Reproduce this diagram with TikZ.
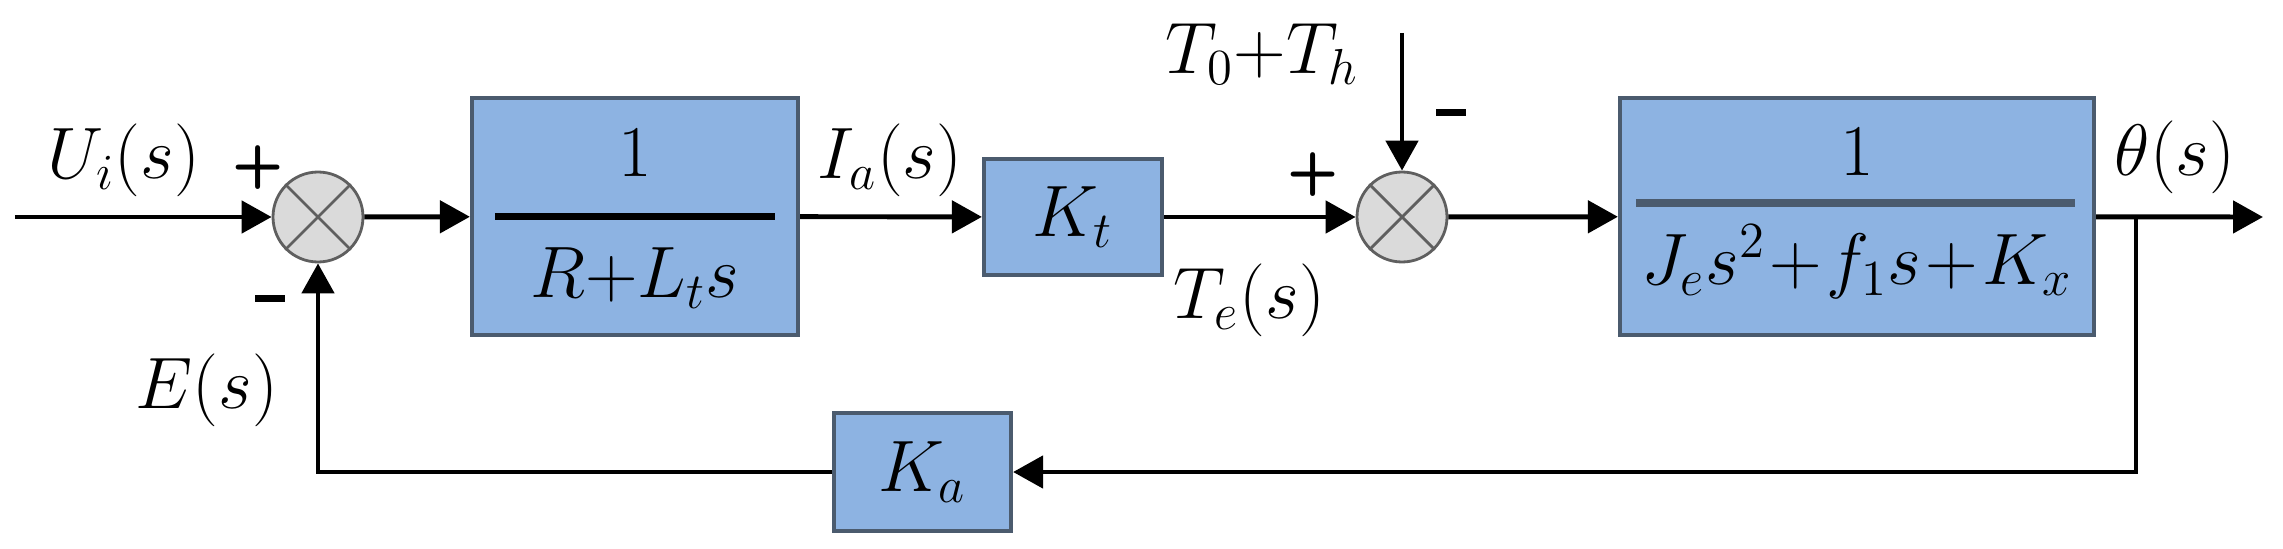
\documentclass[tikz,border=0pt]{standalone}
\usepackage{fontspec}
\usetikzlibrary{arrows.meta}
\definecolor{blockfill}{HTML}{8DB3E2}
\definecolor{blockedge}{HTML}{4B5B6E}
\definecolor{sumfill}{HTML}{DADADA}
\definecolor{sumedge}{HTML}{5F5F5F}

\begin{document}
\begin{tikzpicture}[
  font=\fontsize{20.74}{25}\selectfont,
  block/.style={draw=blockedge, line width=1.2pt, fill=blockfill, inner sep=0pt},
  sumnode/.style={circle, draw=sumedge, line width=0.8pt, fill=sumfill, minimum size=0.9cm, inner sep=0pt},
  sig/.style={line width=1.4pt, -{Triangle[length=0.3cm,width=0.32cm]}},
  lbl/.style={inner sep=0pt},
  sgn/.style={inner sep=0pt, font=\fontsize{17}{17}\selectfont\sffamily\bfseries}]
  \useasboundingbox (0,0) rectangle (22.83,5.48);
  % summing points
  \node[sumnode] (s1) at (3.18,3.31) {};
  \node[sumnode] (s2) at (14.02,3.31) {};
  \foreach \s in {s1,s2}
    \draw[sumedge, line width=0.8pt] (\s.45) -- (\s.225) (\s.135) -- (\s.315);
  % blocks
  \node[block, minimum width=3.26cm, minimum height=2.37cm] (b1) at (6.35,3.315) {};
  \draw[line width=2pt] ([xshift=0.25cm]b1.west) -- ([xshift=-0.25cm]b1.east);
  \node[lbl] (n1) at (6.35,3.95) {$1$};
  \node[lbl] (d1) at (6.35,2.70) {$R{+}L_t s$};
  \node[block, minimum width=1.78cm, minimum height=1.16cm] (kt) at (10.73,3.31) {$K_t$};
  \node[block, minimum width=4.74cm, minimum height=2.37cm] (b3) at (18.57,3.315) {};
  \draw[blockedge, line width=2pt] (16.36,3.45) -- (20.75,3.45);
  \node[lbl] (n3) at (18.57,3.96) {$1$};
  \node[lbl] (d3) at (18.57,2.86) {$J_e s^2\mkern1mu{+}\mkern1mu f_1 s\mkern1mu{+}\mkern1mu K_x$};
  \node[block, minimum width=1.77cm, minimum height=1.18cm] (ka) at (9.225,0.76) {$K_a$};
  % free ends
  \coordinate (in) at (0.15,3.31);
  \coordinate (out) at (22.63,3.31);
  \coordinate (br) at (21.36,3.31);
  \coordinate (dist) at (14.02,5.15);
  % signals
  \draw[sig] (in) -- (s1);
  \draw[sig] (s1) -- (b1);
  \draw[sig] (b1) -- (kt);
  \draw[sig] (kt) -- (s2);
  \draw[sig] (s2) -- (b3);
  \draw[sig] (b3) -- (out);
  \draw[sig] (dist) -- (s2);
  \draw[sig] (br) |- (ka);
  \draw[sig] (ka) -| (s1);
  % labels
  \node[lbl] (ui) at (1.24,3.88) {$U_i(s)$};
  \node[lbl] (ia) at (8.90,3.88) {$I_a(s)$};
  \node[lbl] (te) at (12.49,2.48) {$T_e(s)$};
  \node[lbl] (th) at (12.62,4.94) {$T_0{+}T_h$};
  \node[lbl] (out lbl) at (21.75,3.91) {$\theta(s)$};
  \node[lbl] (es) at (2.07,1.58) {$E(s)$};
  % signs
  \node[sgn] (p1) at (2.58,3.80) {+};
  \node[sgn] (m1) at (2.70,2.50) {\rule{0.3cm}{0.07cm}};
  \node[sgn] (p2) at (13.13,3.73) {+};
  \node[sgn] (m2) at (14.51,4.35) {\rule{0.3cm}{0.07cm}};
\end{tikzpicture}
\end{document}
